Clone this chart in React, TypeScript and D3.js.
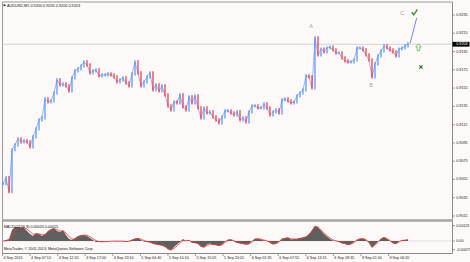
import React from "react";
import * as d3 from "d3";

// ---- data ----
const prices = [
  0.90503, 0.90569, 0.90416, 0.90875, 0.90929, 0.90995, 0.90962, 0.90973, 0.90962, 0.90907,
  0.91017, 0.91104, 0.91202, 0.91224, 0.91432, 0.91399, 0.91410, 0.91498, 0.91640, 0.91585,
  0.91596, 0.91574, 0.91519, 0.91661, 0.91738, 0.91760, 0.91793, 0.91836, 0.91804, 0.91716,
  0.91738, 0.91749, 0.91683, 0.91694, 0.91694, 0.91705, 0.91694, 0.91672, 0.91618, 0.91640,
  0.91661, 0.91607, 0.91574, 0.91705, 0.91836, 0.91716, 0.91574, 0.91618, 0.91672, 0.91716,
  0.91530, 0.91585, 0.91519, 0.91574, 0.91476, 0.91355, 0.91312, 0.91399, 0.91388, 0.91476,
  0.91344, 0.91312, 0.91454, 0.91388, 0.91465, 0.91334, 0.91224, 0.91334, 0.91279, 0.91290,
  0.91235, 0.91202, 0.91170, 0.91235, 0.91301, 0.91301, 0.91279, 0.91257, 0.91290, 0.91202,
  0.91224, 0.91181, 0.91290, 0.91355, 0.91355, 0.91334, 0.91334, 0.91377, 0.91334, 0.91257,
  0.91290, 0.91312, 0.91279, 0.91421, 0.91432, 0.91410, 0.91388, 0.91399, 0.91465, 0.91498,
  0.91530, 0.91683, 0.91672, 0.91552, 0.92099, 0.91913, 0.91978, 0.91946, 0.91989, 0.92000,
  0.91968, 0.91935, 0.91935, 0.91880, 0.91847, 0.91836, 0.91836, 0.91858, 0.91989, 0.91989,
  0.91968, 0.91913, 0.91858, 0.91672, 0.91814, 0.91902, 0.91957, 0.92011, 0.91989, 0.91968,
  0.91946, 0.91902, 0.91978, 0.91989, 0.92011, 0.92033,
];

const macdHist = [
  0, 0.00008, 0.00016, 0.00089, 0.00114, 0.00114, 0.00106, 0.00106, 0.00081, 0.00057,
  0.00041, 0.00065, 0.00057, 0.00041, 0.00057, 0.00081, 0.00098, 0.00106, 0.00081, 0.00073,
  0.00089, 0.00049, 0.00016, 0.00008, 0.00024, 0.00041, 0.00049, 0.00049, 0.00041, 0.00024,
  0.00008, -0.00008, -0.00008, -0.00008, -0.00004, -0.00004, 0, 0, -0.00004, 0,
  -0.00004, -0.00008, 0, 0.00012, 0.00020, 0.00024, 0.00008, -0.00004, -0.00008, -0.00012,
  -0.00024, -0.00028, -0.00033, -0.00037, -0.00049, -0.00069, -0.00077, -0.00049, -0.00028, -0.00008,
  0.00016, 0, 0.00008, -0.00016, -0.00016, -0.00024, -0.00049, -0.00053, -0.00028, -0.00020,
  -0.00033, -0.00033, -0.00041, -0.00028, -0.00004, 0.00012, 0.00012, -0.00004, -0.00016, -0.00020,
  -0.00024, -0.00028, -0.00024, 0, 0.00020, 0.00020, 0.00012, 0.00004, 0, -0.00016,
  -0.00028, -0.00020, -0.00004, 0.00020, 0.00024, 0.00028, 0.00012, 0.00016, 0.00016, 0.00024,
  0.00028, 0.00037, 0.00057, 0.00089, 0.00126, 0.00110, 0.00085, 0.00057, 0.00037, 0.00016,
  0.00004, 0, -0.00008, -0.00020, -0.00024, -0.00033, -0.00024, -0.00008, 0.00012, 0.00020,
  0.00020, 0.00008, -0.00016, -0.00057, -0.00028, -0.00004, 0.00020, 0.00033, 0.00016, 0,
  -0.00020, -0.00024, -0.00004, 0.00008, 0.00008, 0.00012,
];

const macdSignal = [
  0, 0.00002, 0.00006, 0.00040, 0.00090, 0.00110, 0.00112, 0.00108, 0.00095, 0.00075,
  0.00055, 0.00055, 0.00058, 0.00050, 0.00050, 0.00068, 0.00088, 0.00100, 0.00092, 0.00080,
  0.00082, 0.00065, 0.00035, 0.00015, 0.00015, 0.00030, 0.00042, 0.00048, 0.00046, 0.00035,
  0.00018, 0.00003, -0.00005, -0.00007, -0.00006, -0.00005, -0.00002, -0.00001, -0.00002, -0.00001,
  -0.00002, -0.00005, -0.00003, 0.00005, 0.00015, 0.00021, 0.00015, 0.00003, -0.00004, -0.00009,
  -0.00018, -0.00025, -0.00030, -0.00035, -0.00043, -0.00060, -0.00072, -0.00062, -0.00040, -0.00018,
  0.00004, 0.00004, 0.00005, -0.00008, -0.00014, -0.00020, -0.00040, -0.00050, -0.00038, -0.00025,
  -0.00029, -0.00032, -0.00038, -0.00032, -0.00012, 0.00006, 0.00010, 0.00002, -0.00010, -0.00017,
  -0.00022, -0.00026, -0.00025, -0.00008, 0.00012, 0.00018, 0.00014, 0.00007, 0.00002, -0.00010,
  -0.00024, -0.00022, -0.00009, 0.00012, 0.00021, 0.00026, 0.00017, 0.00016, 0.00016, 0.00021,
  0.00026, 0.00033, 0.00050, 0.00078, 0.00115, 0.00115, 0.00092, 0.00066, 0.00044, 0.00024,
  0.00009, 0.00002, -0.00005, -0.00015, -0.00022, -0.00030, -0.00026, -0.00013, 0.00006, 0.00017,
  0.00019, 0.00011, -0.00009, -0.00045, -0.00035, -0.00012, 0.00013, 0.00029, 0.00020, 0.00004,
  -0.00015, -0.00022, -0.00008, 0.00005, 0.00007, 0.00010,
];

const forecast = [
  { i: 135.7, p: 0.92040 },
  { i: 137.9, p: 0.92317 },
];

const waveLabels = [
  { t: "A", i: 102.7, p: 0.92225 },
  { t: "B", i: 122.7, p: 0.91580 },
  { t: "C", i: 133.0, p: 0.92365 },
];

const priceTicks = [0.9235, 0.9215, 0.9195, 0.9175, 0.9155, 0.9135, 0.9115, 0.9095, 0.9075, 0.9055, 0.9035, 0.9015];
const priceTickLabels = ["0.9235", "0.9215", "0.9195", "0.9175", "0.9155", "0.9135", "0.9115", "0.9095", "0.9075", "0.9055", "0.9035", "0.9015"];
const macdTicks = [0.00125, 0, -0.00071];
const macdTickLabels = ["0.00125", "0.00", "-0.00071"];
const timeLabels = [
  "4 Sep 2013", "4 Sep 07:10", "4 Sep 12:20", "4 Sep 17:00", "4 Sep 23:10",
  "5 Sep 04:40", "5 Sep 10:10", "5 Sep 15:05", "5 Sep 20:05", "6 Sep 02:35",
  "6 Sep 07:55", "6 Sep 13:15", "6 Sep 18:35", "9 Sep 01:00", "9 Sep 06:20",
];
const bidPrice = 0.9203;
const bidLabel = "0.9203";
const titleText = "AUDUSD,M5  0.9200 0.9205 0.9200 0.9203";
const macdTitle = "MACD(12,26,9) 0.00020 0.00015";
const copyright = "MetaTrader, \u00a9 2001-2013, MetaQuotes Software Corp.";

// ---- layout ----
const W = 470;
const H = 262;
const LEFT = 2.5;
const RIGHT = 452.5;
const FONT = "'Liberation Sans', Arial, sans-serif";
const BG = "#fdf9f8";
const UP = "#3a8dff";
const DOWN = "#f0202c";

export default function App() {
  const x = d3.scaleLinear().domain([0, prices.length - 1]).range([3, 408]);
  const y = d3.scaleLinear().domain([0.9015, 0.9235]).range([216, 15]);
  const ym = d3.scaleLinear().domain([-0.00071, 0.00125]).range([249.7, 225.6]);
  const xt = d3.scaleLinear().domain([0, timeLabels.length - 1]).range([2.5, 388.5]);

  const closeLine = d3.line<number>().x((_, i) => x(i)).y((d) => y(d));
  const histArea = d3.area<number>().x((_, i) => x(i)).y0(ym(0)).y1((d) => ym(d));
  const sigLine = d3.line<number>().x((_, i) => x(i)).y((d) => ym(d));
  const fcLine = d3.line<{ i: number; p: number }>().x((d) => x(d.i)).y((d) => y(d.p));

  const bars = prices.map((c, i) => {
    const o = i === 0 ? c : prices[i - 1];
    const top = y(Math.max(o, c)) - 1.6;
    const bot = y(Math.min(o, c)) + 1.6;
    return { i, top, bot, up: c >= o };
  });

  const by = y(bidPrice);

  return (
    <svg
      width={W}
      height={H}
      style={{ position: "absolute", left: 0, top: 0, background: BG }}
      fontFamily={FONT}
    >
      <rect x={0} y={0} width={W} height={H} fill={BG} />

      {/* frame */}
      <line x1={LEFT} x2={RIGHT} y1={2} y2={2} stroke="#9a9a9a" strokeWidth={1} />
      <line x1={LEFT} x2={LEFT} y1={2} y2={253.5} stroke="#9a9a9a" strokeWidth={1} />
      <line x1={RIGHT} x2={RIGHT} y1={2} y2={253.5} stroke="#8a8a8a" strokeWidth={1} />
      <rect x={LEFT} y={219.2} width={RIGHT - LEFT} height={2.6} fill="#a8a8a8" />
      <line x1={LEFT} x2={RIGHT} y1={253.5} y2={253.5} stroke="#8a8a8a" strokeWidth={1} />

      {/* bid line */}
      <line x1={LEFT} x2={RIGHT} y1={by} y2={by} stroke="#d2d2d2" strokeWidth={1} />

      {/* price bars */}
      <path d={closeLine(prices) || ""} fill="none" stroke="#7070f0" strokeWidth={1} opacity={0.55} />
      {bars.map((b) => (
        <line
          key={b.i}
          x1={x(b.i)}
          x2={x(b.i)}
          y1={b.top}
          y2={b.bot}
          stroke={b.up ? UP : DOWN}
          strokeWidth={1.3}
          opacity={0.85}
        />
      ))}

      {/* forecast */}
      <path d={fcLine(forecast) || ""} fill="none" stroke="#7f7ff5" strokeWidth={1} />

      {/* wave labels */}
      {waveLabels.map((w) => (
        <text key={w.t} x={x(w.i)} y={y(w.p)} fontSize={5.5} fill="#a2a2a2" textAnchor="middle" dominantBaseline="middle">
          {w.t}
        </text>
      ))}

      {/* icons */}
      <path
        d={`M${x(137.2) - 2.8},${y(0.9238)} l2,2.6 l3.6,-5.4`}
        fill="none"
        stroke="#2f8f2f"
        strokeWidth={1.3}
      />
      <g transform={`translate(${x(138.5)},${y(0.91995)})`}>
        <path d="M0,-3.6 L2.8,-0.4 L1.3,-0.4 L1.3,3.2 L-1.3,3.2 L-1.3,-0.4 L-2.8,-0.4 Z" fill="none" stroke="#4fbf4f" strokeWidth={0.8} />
      </g>
      <g transform={`translate(${x(139.3)},${y(0.9178)})`} stroke="#1f7a1f" strokeWidth={1.1}>
        <line x1={-1.6} y1={-1.6} x2={1.6} y2={1.6} />
        <line x1={-1.6} y1={1.6} x2={1.6} y2={-1.6} />
      </g>

      {/* MACD */}
      <line x1={LEFT} x2={RIGHT} y1={ym(0)} y2={ym(0)} stroke="#c8c8c8" strokeWidth={0.5} />
      <path d={histArea(macdHist) || ""} fill="#5f5f5f" />
      <path d={sigLine(macdSignal) || ""} fill="none" stroke="#f03c3c" strokeWidth={0.9} opacity={0.9} />

      {/* right price axis */}
      {priceTicks.map((p, k) => (
        <g key={p}>
          <line x1={RIGHT} x2={RIGHT + 2.5} y1={y(p)} y2={y(p)} stroke="#8a8a8a" strokeWidth={0.8} />
          <text x={RIGHT + 3.8} y={y(p)} fontSize={3.7} fill="#222" dominantBaseline="middle">
            {priceTickLabels[k]}
          </text>
        </g>
      ))}
      <rect x={RIGHT} y={by - 2.4} width={17} height={4.8} fill="#000" />
      <text x={RIGHT + 3.8} y={by + 0.1} fontSize={3.7} fill="#fff" dominantBaseline="middle">
        {bidLabel}
      </text>

      {macdTicks.map((v, k) => (
        <g key={k}>
          <line x1={RIGHT} x2={RIGHT + 2.5} y1={ym(v)} y2={ym(v)} stroke="#8a8a8a" strokeWidth={0.8} />
          <text x={RIGHT + 3.8} y={ym(v)} fontSize={3.7} fill="#222" dominantBaseline="middle">
            {macdTickLabels[k]}
          </text>
        </g>
      ))}

      {/* time axis */}
      {timeLabels.map((t, k) => (
        <g key={t}>
          <line x1={xt(k)} x2={xt(k)} y1={253.5} y2={256} stroke="#8a8a8a" strokeWidth={0.8} />
          <text x={xt(k) + 1} y={259.3} fontSize={3.7} fill="#222">
            {t}
          </text>
        </g>
      ))}

      {/* titles */}
      <path d="M3.6,4 L6.2,5.3 L3.6,6.6 Z" fill="#222" />
      <text x={7} y={6.6} fontSize={3.8} fill="#111">{titleText}</text>
      <text x={3.8} y={228} fontSize={3.7} fill="#111">{macdTitle}</text>
      <text x={3.8} y={249.8} fontSize={3.7} fill="#111">{copyright}</text>
    </svg>
  );
}
